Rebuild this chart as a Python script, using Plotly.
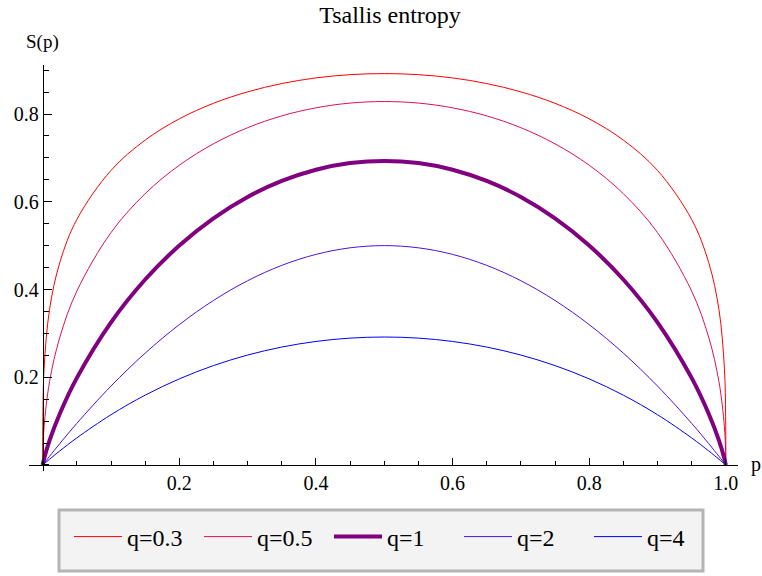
import plotly.graph_objects as go

# Probability values (denser near the ends where the curves are steep)
p = [0, 0.0002, 0.002, 0.01, 0.025, 0.05, 0.1, 0.15, 0.2, 0.25, 0.3, 0.35, 0.4, 0.45,
     0.5, 0.55, 0.6, 0.65, 0.7, 0.75, 0.8, 0.85, 0.9, 0.95, 0.975, 0.99, 0.998, 0.9998, 1]

# Tsallis entropy S_q(p) for each q
s_q03 = [0, 0.1109, 0.2206, 0.3546, 0.4615, 0.5598, 0.6715, 0.7406, 0.7890, 0.8244, 0.8505, 0.8694, 0.8823, 0.8897,
         0.8921, 0.8897, 0.8823, 0.8694, 0.8505, 0.8244, 0.7890, 0.7406, 0.6715, 0.5598, 0.4615, 0.3546, 0.2206, 0.1109, 0]
s_q05 = [0, 0.0281, 0.0874, 0.1900, 0.2911, 0.3966, 0.5298, 0.6185, 0.6833, 0.7321, 0.7688, 0.7957, 0.8141, 0.8249,
         0.8284, 0.8249, 0.8141, 0.7957, 0.7688, 0.7321, 0.6833, 0.6185, 0.5298, 0.3966, 0.2911, 0.1900, 0.0874, 0.0281, 0]
s_q1 = [0, 0.0019, 0.0144, 0.0560, 0.1169, 0.1985, 0.3251, 0.4227, 0.5004, 0.5623, 0.6109, 0.6474, 0.6730, 0.6881,
        0.6931, 0.6881, 0.6730, 0.6474, 0.6109, 0.5623, 0.5004, 0.4227, 0.3251, 0.1985, 0.1169, 0.0560, 0.0144, 0.0019, 0]
s_q2 = [0, 0.0004, 0.0040, 0.0198, 0.0488, 0.0950, 0.1800, 0.2550, 0.3200, 0.3750, 0.4200, 0.4550, 0.4800, 0.4950,
        0.5000, 0.4950, 0.4800, 0.4550, 0.4200, 0.3750, 0.3200, 0.2550, 0.1800, 0.0950, 0.0488, 0.0198, 0.0040, 0.0004, 0]
s_q4 = [0, 0.0003, 0.0027, 0.0131, 0.0321, 0.0618, 0.1146, 0.1592, 0.1963, 0.2266, 0.2506, 0.2688, 0.2816, 0.2892,
        0.2917, 0.2892, 0.2816, 0.2688, 0.2506, 0.2266, 0.1963, 0.1592, 0.1146, 0.0618, 0.0321, 0.0131, 0.0027, 0.0003, 0]

names = ["q=0.3", "q=0.5", "q=1", "q=2", "q=4"]
series = [s_q03, s_q05, s_q1, s_q2, s_q4]
colors = ["#FF0000", "#E0104F", "#800080", "#5010E0", "#0000FF"]
widths = [1, 1, 4, 1, 1]

x_ticks = [0.2, 0.4, 0.6, 0.8, 1.0]
y_ticks = [0.2, 0.4, 0.6, 0.8]

x_range = [-0.0201, 1.0179]
y_range = [-0.0137, 0.9117]

FONT = "'Liberation Serif', 'Times New Roman', serif"
W, H = 762, 576
ML, MR, MT, MB = 29, 24, 65, 105
PW, PH = W - ML - MR, H - MT - MB


def px_x(px):
    """Pixel column -> paper x."""
    return (px - ML) / PW


def px_y(py):
    """Pixel row -> paper y."""
    return (H - MB - py) / PH


fig = go.Figure()
for name, s, c, w in zip(names, series, colors, widths):
    fig.add_trace(go.Scatter(
        x=p, y=s, mode="lines", name=name,
        line=dict(color=c, width=w, shape="spline", smoothing=1),
        cliponaxis=False,
    ))

# Axes cross at the origin, Mathematica-style
x_pos = (0 - y_range[0]) / (y_range[1] - y_range[0])
y_pos = (0 - x_range[0]) / (x_range[1] - x_range[0])

axis_common = dict(showgrid=False, zeroline=False, showline=True,
                   linecolor="black", linewidth=1, anchor="free",
                   tickformat=".1f", ticks="inside", tickcolor="black", tickwidth=1,
                   tickfont=dict(family=FONT, size=20, color="black"))

fig.update_layout(
    width=W, height=H,
    margin=dict(l=ML, r=MR, t=MT, b=MB, autoexpand=False),
    paper_bgcolor="white", plot_bgcolor="white",
    font=dict(family=FONT, size=20, color="black"),
    title=dict(text="Tsallis entropy", x=390 / W, xref="container", xanchor="center",
               y=1 - 15 / H, yref="container", yanchor="middle",
               font=dict(family=FONT, size=24, color="black")),
    xaxis=dict(range=x_range, position=x_pos, tickvals=x_ticks, ticklen=7,
               minor=dict(dtick=0.05, tick0=0, ticks="inside", ticklen=4,
                          tickcolor="black", tickwidth=1, showgrid=False),
               **axis_common),
    yaxis=dict(range=y_range, position=y_pos, tickvals=y_ticks, ticklen=8,
               minor=dict(dtick=0.05, tick0=0, ticks="inside", ticklen=5,
                          tickcolor="black", tickwidth=1, showgrid=False),
               **axis_common),
    legend=dict(orientation="h", x=px_x(69), xanchor="left",
                y=px_y(537), yanchor="middle",
                bgcolor="rgba(0,0,0,0)", borderwidth=0,
                font=dict(family=FONT, size=24, color="black"),
                itemwidth=48, entrywidth=67, entrywidthmode="pixels",
                traceorder="normal"),
    showlegend=True,
)

# Legend frame
fig.add_shape(type="rect", xref="paper", yref="paper",
              x0=px_x(59), x1=px_x(703), y0=px_y(571), y1=px_y(510),
              fillcolor="#F3F3F3", line=dict(color="#B4B4B4", width=3),
              layer="below")

# Axis labels at the ends of the axes
fig.add_annotation(text="S(p)", xref="paper", yref="paper",
                   x=px_x(42), y=px_y(42),
                   xanchor="center", yanchor="middle", showarrow=False,
                   font=dict(family=FONT, size=19))
fig.add_annotation(text="p", xref="paper", yref="paper",
                   x=px_x(749), y=x_pos,
                   xanchor="left", yanchor="middle", showarrow=False,
                   font=dict(family=FONT, size=20))

fig.write_html("out.html")
